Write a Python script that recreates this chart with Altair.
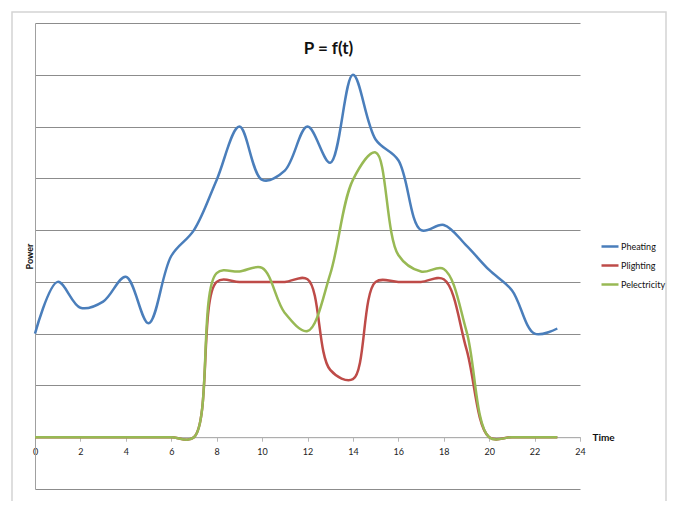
import altair as alt
import pandas as pd

# ---- data ----
hours = [0, 1, 2, 3, 4, 5, 6, 7, 8, 9, 10, 11, 12, 13, 14, 15, 16, 17, 18, 19, 20, 21, 22, 23]
p_heating = [2.0, 3.0, 2.5, 2.62, 3.1, 2.2, 3.5, 4.0, 4.97, 6.0, 4.97, 5.15,
             6.0, 5.3, 7.0, 5.75, 5.35, 4.0, 4.1, 3.7, 3.23, 2.84, 2.0, 2.1]
p_lighting = [0, 0, 0, 0, 0, 0, 0, 0, 3.0, 3.0, 3.0, 3.0,
              3.05, 1.3, 1.12, 3.0, 3.0, 3.0, 3.05, 1.7, 0, 0, 0, 0]
p_electricity = [0, 0, 0, 0, 0, 0, 0, 0, 3.17, 3.2, 3.27, 2.4,
                 2.05, 3.15, 4.97, 5.5, 3.52, 3.2, 3.25, 2.05, 0, 0, 0, 0]
series_names = ["Pheating", "Plighting", "Pelectricity"]
series_colors = ["#4A7EBB", "#BE4B48", "#98B954"]
x_ticks = [0, 2, 4, 6, 8, 10, 12, 14, 16, 18, 20, 22, 24]
y_grid = [-1, 0, 1, 2, 3, 4, 5, 6, 7, 8]

rows = []
for name, vals in zip(series_names, [p_heating, p_lighting, p_electricity]):
    for t, v in zip(hours, vals):
        rows.append({"Time": t, "Power": v, "Series": name})
df = pd.DataFrame(rows)

FONT = "Lato"
W, H = 545, 466

frame = alt.Chart(pd.DataFrame({"k": [0]})).mark_rect(
    fillOpacity=0, stroke="#d4d4d4", strokeWidth=1.5
).encode(
    x=alt.value(-23), x2=alt.value(631), y=alt.value(-11), y2=alt.value(495)
)

lines = alt.Chart(df).mark_line(
    interpolate="catmull-rom", strokeWidth=2.5
).encode(
    x=alt.X(
        "Time:Q",
        scale=alt.Scale(domain=[0, 24], nice=False),
        axis=alt.Axis(
            values=x_ticks, grid=False, offset=-H / 9,
            domainColor="#b8b8b8", tickColor="#b8b8b8", tickSize=4,
            labelPadding=6, labelFontSize=9, labelColor="#222222", labelFlush=False,
            title="Time", titleX=557, titleY=0, titleAlign="left",
            titleBaseline="middle", titleFontSize=10, titleFontWeight="bold",
            titleColor="#111111",
        ),
    ),
    y=alt.Y(
        "Power:Q",
        scale=alt.Scale(domain=[-1, 8], nice=False, zero=False),
        axis=alt.Axis(
            values=y_grid, labels=False, ticks=False, grid=True,
            gridColor="#8c8c8c", gridWidth=1, domainColor="#a0a0a0",
            title="Power", titleX=-6, titleY=233, titleAngle=270,
            titleAlign="center", titleBaseline="middle", titleFontSize=9,
            titleFontWeight="bold", titleColor="#111111",
        ),
    ),
    color=alt.Color(
        "Series:N",
        sort=series_names,
        scale=alt.Scale(domain=series_names, range=series_colors),
        legend=alt.Legend(
            title=None, orient="none", legendX=565, legendY=213.5,
            symbolType="stroke", symbolSize=289, symbolStrokeWidth=2.5,
            labelFontSize=9, labelOffset=1, rowPadding=4, labelColor="#111111",
        ),
    ),
)

chart = alt.layer(frame, lines).properties(
    width=W, height=H,
    autosize="none",
    padding={"left": 27, "top": 15, "right": 87, "bottom": 12},
    background="white",
    title=alt.TitleParams(
        "P = f(t)", fontSize=17, font=FONT, fontWeight="bold", anchor="middle",
        frame="group", offset=0, baseline="middle", dx=21, dy=55, color="#111111",
    ),
).configure(font=FONT).configure_view(strokeWidth=0)

chart.save("out.html", embed_options={"renderer": "svg", "actions": False})
